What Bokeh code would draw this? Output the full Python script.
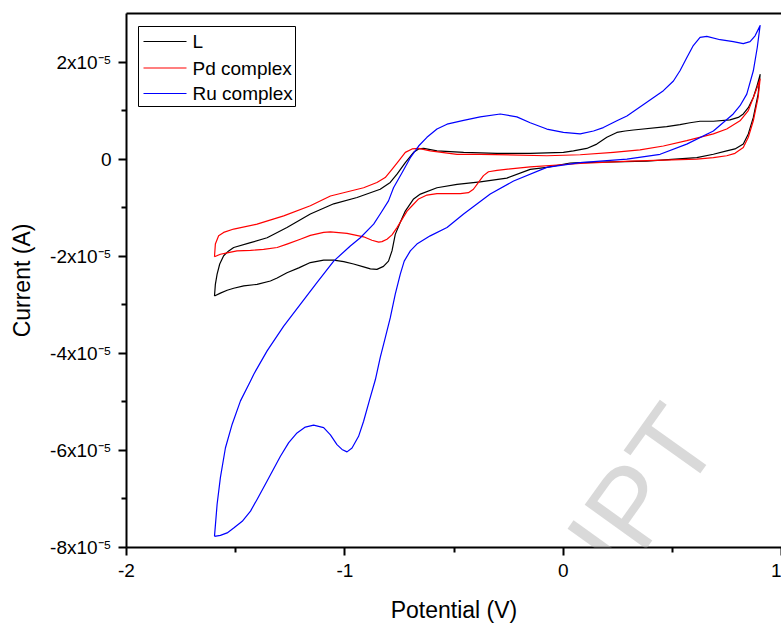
from bokeh.plotting import figure
from bokeh.models import (ColumnDataSource, FixedTicker, LinearAxis, CustomJSTickFormatter,
                          Range1d, Label)
from bokeh.core.properties import value
from bokeh.embed import file_html
from bokeh.resources import INLINE

SCALE = 1e-5  # current values below are in units of 1e-5 A

# L (black): anodic branch left->right, then cathodic branch right->left
L_x = [-1.597, -1.593, -1.585, -1.573, -1.555, -1.532, -1.509, -1.432, -1.356, -1.265, -1.158,
       -1.051, -0.944, -0.838, -0.792, -0.761, -0.723, -0.685, -0.662, -0.639, -0.578, -0.456,
       -0.303, -0.151, 0.001, 0.047, 0.108, 0.154, 0.200, 0.246, 0.284, 0.322, 0.474, 0.535,
       0.581, 0.627, 0.688, 0.764, 0.802, 0.825, 0.848, 0.871, 0.886, 0.902,
       0.893, 0.871, 0.848, 0.825, 0.787, 0.749, 0.688, 0.612, 0.383, 0.078, 0.032, -0.075,
       -0.151, -0.258, -0.380, -0.486, -0.578, -0.654, -0.685, -0.723, -0.746, -0.769, -0.784,
       -0.800, -0.823, -0.853, -0.883, -0.914, -0.960, -1.005, -1.051, -1.097, -1.158, -1.211,
       -1.265, -1.310, -1.341, -1.402, -1.463, -1.509, -1.539, -1.570, -1.597]
L_y = [-2.82, -2.58, -2.37, -2.16, -1.99, -1.89, -1.82, -1.72, -1.62, -1.41, -1.13,
       -0.92, -0.79, -0.62, -0.48, -0.31, -0.07, 0.14, 0.21, 0.22, 0.17, 0.14,
       0.12, 0.12, 0.14, 0.17, 0.22, 0.31, 0.45, 0.55, 0.58, 0.60, 0.67, 0.71,
       0.75, 0.78, 0.78, 0.81, 0.86, 0.93, 1.06, 1.27, 1.48, 1.74,
       1.34, 0.86, 0.52, 0.31, 0.21, 0.17, 0.10, 0.03, -0.04, -0.07, -0.08, -0.17,
       -0.21, -0.39, -0.47, -0.52, -0.59, -0.72, -0.82, -1.07, -1.30, -1.55, -1.89,
       -2.10, -2.21, -2.27, -2.26, -2.22, -2.16, -2.11, -2.08, -2.08, -2.13, -2.24,
       -2.34, -2.45, -2.51, -2.58, -2.61, -2.66, -2.70, -2.76, -2.82]

# Pd complex (red)
Pd_x = [-1.597, -1.593, -1.578, -1.555, -1.509, -1.402, -1.280, -1.158, -1.066, -0.914, -0.853,
        -0.815, -0.784, -0.754, -0.723, -0.692, -0.662, -0.609, -0.486, -0.380, -0.075, 0.078,
        0.230, 0.352, 0.459, 0.566, 0.688, 0.749, 0.810, 0.848, 0.871, 0.889, 0.902,
        0.893, 0.871, 0.848, 0.825, 0.787, 0.749, 0.688, 0.612, 0.307, 0.078, -0.151, -0.303,
        -0.342, -0.365, -0.388, -0.411, -0.434, -0.471, -0.578, -0.624, -0.662, -0.692, -0.715,
        -0.738, -0.761, -0.784, -0.807, -0.830, -0.845, -0.876, -0.914, -0.990, -1.066, -1.097,
        -1.158, -1.204, -1.265, -1.310, -1.372, -1.432, -1.494, -1.539, -1.570, -1.597]
Pd_y = [-2.01, -1.75, -1.58, -1.51, -1.44, -1.34, -1.17, -0.96, -0.76, -0.59, -0.48,
        -0.38, -0.21, -0.04, 0.14, 0.21, 0.22, 0.17, 0.10, 0.10, 0.07, 0.09,
        0.14, 0.19, 0.27, 0.38, 0.52, 0.62, 0.79, 1.00, 1.27, 1.48, 1.65,
        1.27, 0.79, 0.45, 0.24, 0.12, 0.07, 0.03, 0.00, -0.04, -0.09, -0.16, -0.23,
        -0.26, -0.34, -0.48, -0.62, -0.69, -0.71, -0.71, -0.74, -0.82, -0.96, -1.07,
        -1.24, -1.41, -1.56, -1.65, -1.70, -1.71, -1.67, -1.60, -1.53, -1.50, -1.51,
        -1.57, -1.65, -1.75, -1.82, -1.86, -1.88, -1.89, -1.93, -1.96, -2.01]

# Ru complex (blue)
Ru_x = [-1.597, -1.585, -1.570, -1.547, -1.516, -1.478, -1.432, -1.417, -1.356, -1.280, -1.204,
        -1.127, -1.051, -0.975, -0.929, -0.868, -0.838, -0.800, -0.777, -0.738, -0.700, -0.662,
        -0.624, -0.578, -0.532, -0.456, -0.380, -0.288, -0.212, -0.151, -0.075, 0.001, 0.078,
        0.139, 0.184, 0.246, 0.292, 0.383, 0.459, 0.505, 0.535, 0.566, 0.596, 0.627, 0.658,
        0.719, 0.779, 0.825, 0.856, 0.879, 0.902,
        0.889, 0.871, 0.841, 0.810, 0.779, 0.688, 0.566, 0.444, 0.292, 0.078, -0.075, -0.227,
        -0.334, -0.456, -0.532, -0.609, -0.670, -0.700, -0.728, -0.746, -0.769, -0.792, -0.815,
        -0.838, -0.860, -0.888, -0.914, -0.937, -0.967, -0.990, -1.013, -1.036, -1.066, -1.097,
        -1.143, -1.181, -1.219, -1.257, -1.295, -1.356, -1.402, -1.432, -1.470, -1.509, -1.539,
        -1.570, -1.597]
Ru_y = [-7.77, -7.11, -6.56, -5.95, -5.46, -4.98, -4.57, -4.43, -3.95, -3.44, -2.99,
        -2.54, -2.10, -1.79, -1.62, -1.34, -1.13, -0.86, -0.59, -0.28, 0.03, 0.27,
        0.45, 0.62, 0.72, 0.80, 0.87, 0.93, 0.87, 0.75, 0.62, 0.55, 0.52,
        0.58, 0.65, 0.79, 0.89, 1.17, 1.41, 1.61, 1.82, 2.09, 2.34, 2.51, 2.53,
        2.46, 2.42, 2.38, 2.42, 2.54, 2.75,
        2.30, 1.82, 1.34, 1.10, 0.93, 0.58, 0.31, 0.10, 0.00, -0.07, -0.17, -0.45,
        -0.72, -1.13, -1.41, -1.58, -1.75, -1.89, -2.10, -2.37, -2.78, -3.27, -3.68,
        -4.09, -4.54, -4.98, -5.40, -5.71, -5.95, -6.03, -5.98, -5.88, -5.68, -5.53,
        -5.48, -5.52, -5.64, -5.84, -6.12, -6.63, -7.01, -7.25, -7.46, -7.60, -7.70,
        -7.75, -7.77]

series_names = ["L", "Pd complex", "Ru complex"]
series_colors = ["#000000", "#ff0000", "#0000ff"]

x_major = [-2, -1, 0, 1]
x_minor = [-1.5, -0.5, 0.5]
y_major = [-8e-5, -6e-5, -4e-5, -2e-5, 0, 2e-5]
y_minor = [-7e-5, -5e-5, -3e-5, -1e-5, 1e-5]

FONT = "Liberation Sans"
X0, X1 = -2.0, 1.0
Y0, Y1 = -8e-5, 3e-5
FRAME_W, FRAME_H = 655, 534

p = figure(width=781, height=634, output_backend="svg", toolbar_location=None,
           x_range=Range1d(X0, X1), y_range=Range1d(Y0, Y1),
           min_border_left=126, min_border_right=0, min_border_top=13, min_border_bottom=87,
           x_axis_label="Potential (V)", y_axis_label="Current (A)")
p.grid.visible = False
p.outline_line_color = None
p.background_fill_color = "white"
p.border_fill_color = "white"

# faint watermark of the source page (screen units, measured from the frame's bottom-left)
wm = Label(x=565, y=128, x_units="screen", y_units="screen", text="CRIPT", angle=0.95,
           text_align="right", text_baseline="alphabetic", text_font=FONT,
           text_font_size="110px", text_color="#b4b4b4", text_alpha=0.5)
p.add_layout(wm)

for xs, ys, c in zip([L_x, Pd_x, Ru_x], [L_y, Pd_y, Ru_y], series_colors):
    src = ColumnDataSource(dict(x=xs, y=[v * SCALE for v in ys]))
    p.line("x", "y", source=src, line_color=c, line_width=1.2, line_join="round")

p.xaxis.ticker = FixedTicker(ticks=x_major, minor_ticks=x_minor)
p.xaxis.formatter = CustomJSTickFormatter(code="return String(Math.round(tick * 10) / 10);")
p.yaxis.ticker = FixedTicker(ticks=y_major, minor_ticks=y_minor)
p.yaxis.formatter = CustomJSTickFormatter(code="""
const v = Math.round(tick * 1e5);
if (v === 0) { return "0"; }
return v + "x10\u207b\u2075";
""")

for ax in (p.xaxis[0], p.yaxis[0]):
    ax.axis_line_width = 2
    ax.major_tick_line_width = 2
    ax.minor_tick_line_width = 2
    ax.major_tick_out = 8
    ax.major_tick_in = 0
    ax.minor_tick_out = 5
    ax.minor_tick_in = 0
    ax.major_label_text_font = FONT
    ax.major_label_text_font_size = "19px"
    ax.major_label_text_color = "black"
    ax.axis_label_text_font = FONT
    ax.axis_label_text_font_size = "23px"
    ax.axis_label_text_font_style = "normal"
    ax.axis_label_text_color = "black"
p.xaxis.major_label_standoff = 8
p.yaxis.major_label_standoff = 7
p.xaxis.axis_label_standoff = 17
p.yaxis.axis_label_standoff = 12

top = LinearAxis(ticker=FixedTicker(ticks=[], minor_ticks=[]), major_label_text_font_size="0px",
                 axis_line_width=2, major_tick_line_color=None, minor_tick_line_color=None)
p.add_layout(top, "above")

# ---- legend, drawn from glyphs (box, key lines, labels); layout in frame pixels ----
dx = (X1 - X0) / FRAME_W
dy = (Y1 - Y0) / FRAME_H
def fx(px):  # frame pixels from the left -> data x
    return X0 + px * dx
def fy(py):  # frame pixels from the top -> data y
    return Y1 - py * dy

BOX_L, BOX_R, BOX_T, BOX_B = 12, 169, 13, 93
KEY_L, KEY_R, TXT_L = 17, 60, 66
ROWS = [28, 54.5, 80]

p.quad(left=[fx(BOX_L)], right=[fx(BOX_R)], top=[fy(BOX_T)], bottom=[fy(BOX_B)],
       fill_color="white", line_color="black", line_width=1)
keys = ColumnDataSource(dict(x0=[fx(KEY_L)] * 3, x1=[fx(KEY_R)] * 3,
                             y=[fy(r) for r in ROWS], color=series_colors))
p.segment(x0="x0", y0="y", x1="x1", y1="y", source=keys, line_color="color", line_width=1.2)
labels = ColumnDataSource(dict(x=[fx(TXT_L)] * 3, y=[fy(r) for r in ROWS], text=series_names))
p.text(x="x", y="y", text="text", source=labels, text_font=value(FONT),
       text_font_size="19px", text_baseline="middle", text_align="left", text_color="black")

open("out.html", "w").write(file_html(p, INLINE))
